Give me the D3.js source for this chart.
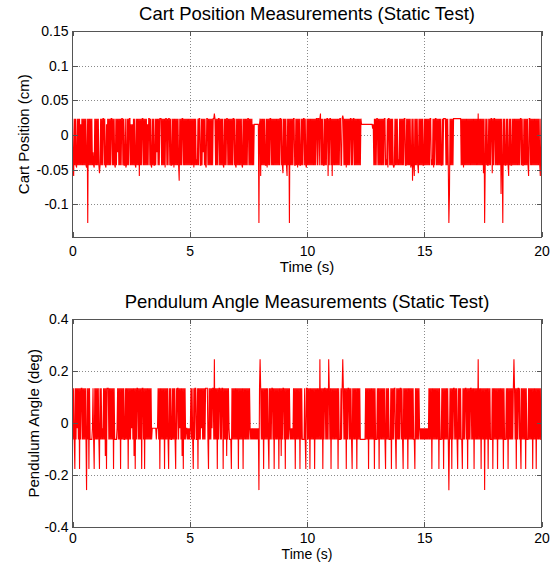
<!DOCTYPE html>
<html><head><meta charset="utf-8">
<script src="https://cdn.jsdelivr.net/npm/d3@7"></script>
<style>
body{margin:0;background:#fff}
svg text{font-family:"Liberation Sans",Arial,Helvetica,sans-serif;fill:#000}
</style>
</head><body>
<svg id="chart" width="553" height="562"></svg>
<script>
// ---------- data ----------
const timeTicks = [0, 5, 10, 15, 20];
const cartTicks = [0.15, 0.1, 0.05, 0, -0.05, -0.1];
const angleTicks = [0.4, 0.2, 0, -0.2, -0.4];

const cartLevelKeys   = ["a", "b", "c", "d", "e", "f", "g", "h", "k", "m", "q", "r", "u", "v"];
const cartLevelValues = [0.0236, 0.0154, 0.0093, -0.0435, -0.047, -0.059, -0.066, -0.127, -0.085, -0.055, -0.025, -0.035, 0.031, 0.028];
const angleLevelKeys   = ["A", "B", "C", "E", "F", "G", "H", "I", "J"];
const angleLevelValues = [0.135, 0.125, 0.051, -0.019, -0.062, -0.126, -0.176, -0.257, 0.246];

// one string of samples per second of the test (40 samples / s)
const cartSamples = [
  "adfadadead adadbdadad adadeahada dadadqdead",
  "adadadmdad adaadadebd adadadaada dadeadaqad",
  "adadaadadd aedadadaad bdbdadadea dadafadada",
  "adadadadbd aadadeadad dadaqadada aadadadaea",
  "adadaadadd adaeadadad adgadadaad adadadadad",
  "adadadaead adrdadaadd adaqadadea adadadadad",
  "aauadadada adadadadea dadaadadad adadaadade",
  "adadadadad eadadadada adadadadbd bbbbbbbbhb",
  "afadadadad daeadadaad adadadadad adadaadadm",
  "adadadfada hadadadaad dadaeadadd adadaadade",
  "adadadadad adadadaada adaudadadd adadaafada",
  "adafadadad adadadaadd avadadaead adadaadada",
  "adadadadad adabbbbbbb bbbbbbbbbb bbcbdadada",
  "adadadadad adaadrdaea adadadaded adadadrdad",
  "adadadaadd adadadaeda gadfadadad madadadadd",
  "adadadadad aadrdaeada adadadadad dadaaaadad",
  "adhkadadad aaaaaaaaaa aaadadaead adadadadad",
  "adadadadad adudadadad amahdadadd adadaamada",
  "adadadadad akadhadadd adadfadadd adadadadad",
  "adadaadadd adadadadfa adadadadad adadadadfa"
];
const cartLast = "d";

const angleSamples = [
  "AFAFHAFAEA FAHAFAAFAF AFAFIAFAHA FFFFEAFHAF",
  "AFAFAFHAFA FEFAFAGAHA AAFAFAFAFA HAFFFFEAFA",
  "FAHAFAFAFF AFAFAHAFAF AEAFAGAHAF AAFAFAFAHA",
  "AFAHAFAFAF AFAFAFEEEE EEEFEEAFAH AFAFAFAHAF",
  "AFAFHAFAFF AFAFAFHAFA AFAEAFAGAH AFAFEEFEFE",
  "FEAFAFHAFA AFFAHAFAFA EAFAFAFAAA AFHAFAFAEA",
  "AFJFAFAHAF AAFAFAAHAF AFAGAFAEFF FHAFAFAFAF",
  "AFAHAFAFAF AHAFAFAFAF AFAEFEFEFE FEFEFEFEIA",
  "JAFAFAHAFA FAFAFHAFAF AAFAHAFAFA FAHAFAGAFA",
  "AFAHAFAFAF AEFEFEFAFA HAFAFAFAHA FAFFFFAFHA",
  "AFAFAHAFAF AFAHAFAFAF AFJFAFAHAF AAFAFAFJAF",
  "AHAFAFAFAF AFAHAFFFAF AJAFAFAHAF AAFAFAFHAF",
  "AFAFAHAFAF AFFFFFFFFF AFAFAHAFAF AFAFAHAFFF",
  "AFAHAFAFAF AFAFHAFAFA FFFAHAFAFA AFHAFAFAFA",
  "AFAFHAFAFA FAHAFAFAFA FAFFHAFAFA FAEFEFEFEF",
  "EFEFEFEFAF AFAHAFAFAF AFAFAHAFFF AFAHAFAFAF",
  "AFIFAFAHAF AAFAFAFHAF AFAFFHAFAF AAFAHAFAFA",
  "AFAFAHAFAF AFJFAFAHAF AFAIAFAFAH AFAFFFAHAF",
  "AFAFAHAFAF AFAFAHAFFF AFAHAFAFAF AFAJAFAHAF",
  "AAFAFHAFAF AFAHAFFFAF AFAFAHAFAF AHAFAFAFAF"
];
const angleLast = "F";

// ---------- decode ----------
function decode(strings, keys, vals, last) {
  const map = new Map(keys.map((k, i) => [k, vals[i]]));
  const pts = [];
  strings.forEach((s, sec) => {
    const chars = s.replace(/\s+/g, "").split("");
    chars.forEach((c, j) => pts.push([sec + j / chars.length, map.get(c)]));
  });
  pts.push([strings.length, map.get(last)]);
  return pts;
}
const cartData = decode(cartSamples, cartLevelKeys, cartLevelValues, cartLast);
const angleData = decode(angleSamples, angleLevelKeys, angleLevelValues, angleLast);

// ---------- drawing ----------
const svg = d3.select("#chart");
const X0 = 72.5, X1 = 541.5;
const AX = "#555";

function panel(cfg) {
  const x = d3.scaleLinear().domain([0, 20]).range([X0, X1]);
  const y = d3.scaleLinear().domain(cfg.domain).range([cfg.bottom, cfg.top]);
  const g = svg.append("g");
  const W = X1 - X0, H = cfg.bottom - cfg.top;

  // grid
  const gx = g.append("g").attr("transform", `translate(0,${cfg.bottom})`)
    .call(d3.axisBottom(x).tickValues(timeTicks.slice(1, -1)).tickSize(-H).tickFormat(""));
  const gy = g.append("g").attr("transform", `translate(${X0},0)`)
    .call(d3.axisLeft(y).tickValues(cfg.ticks.filter(v => Math.abs(y(v) - cfg.top) > 1 && Math.abs(y(v) - cfg.bottom) > 1)).tickSize(-W).tickFormat(""));
  [gx, gy].forEach(s => {
    s.select(".domain").remove();
    s.selectAll("line").attr("stroke", "#8a8a8a").attr("stroke-dasharray", "1,2").attr("shape-rendering", "crispEdges");
  });

  // data
  g.append("path").datum(cfg.data)
    .attr("fill", "none").attr("stroke", "#ff0000").attr("stroke-width", 1.1)
    .attr("d", d3.line().x(d => x(d[0])).y(d => y(d[1])));

  // box
  g.append("rect").attr("x", X0).attr("y", cfg.top).attr("width", W).attr("height", H)
    .attr("fill", "none").attr("stroke", AX).attr("stroke-width", 1).attr("shape-rendering", "crispEdges");

  // ticks + labels
  const ab = g.append("g").attr("transform", `translate(0,${cfg.bottom})`)
    .call(d3.axisBottom(x).tickValues(timeTicks).tickSize(-5).tickSizeOuter(0).tickPadding(cfg.xtickPad).tickFormat(d => String(d)));
  const at = g.append("g").attr("transform", `translate(0,${cfg.top})`)
    .call(d3.axisTop(x).tickValues(timeTicks).tickSize(-5).tickSizeOuter(0).tickFormat(""));
  const al = g.append("g").attr("transform", `translate(${X0},0)`)
    .call(d3.axisLeft(y).tickValues(cfg.ticks).tickSize(-5).tickSizeOuter(0).tickPadding(4).tickFormat(d => String(d)));
  const ar = g.append("g").attr("transform", `translate(${X1},0)`)
    .call(d3.axisRight(y).tickValues(cfg.ticks).tickSize(-5).tickSizeOuter(0).tickFormat(""));
  [ab, at, al, ar].forEach(s => {
    s.select(".domain").remove();
    s.selectAll("line").attr("stroke", AX).attr("shape-rendering", "crispEdges");
    s.selectAll("text").attr("font-family", "Liberation Sans, Arial, sans-serif").attr("font-size", 14).attr("fill", "#000");
  });

  // titles / labels
  g.append("text").attr("x", (X0 + X1) / 2).attr("y", cfg.top - 11.5).attr("text-anchor", "middle")
    .attr("font-size", 18.5).text(cfg.title);
  g.append("text").attr("x", (X0 + X1) / 2).attr("y", cfg.bottom + cfg.xlabelDy).attr("text-anchor", "middle")
    .attr("font-size", cfg.xlabelSize).text("Time (s)");
  g.append("text").attr("transform", `translate(${cfg.ylabelX},${(cfg.top + cfg.bottom) / 2}) rotate(-90)`)
    .attr("text-anchor", "middle").attr("font-size", 15).text(cfg.ylabel);
}

panel({
  title: "Cart Position Measurements (Static Test)",
  ylabel: "Cart Position (cm)",
  domain: [-0.1475, 0.15], ticks: cartTicks,
  top: 31, bottom: 237.3, data: cartData, ylabelX: 28.5,
  xtickPad: 8.3, xlabelDy: 35, xlabelSize: 15
});
panel({
  title: "Pendulum Angle Measurements (Static Test)",
  ylabel: "Pendulum Angle (deg)",
  domain: [-0.4, 0.4], ticks: angleTicks,
  top: 319.3, bottom: 527.3, data: angleData, ylabelX: 39,
  xtickPad: 5.3, xlabelDy: 31.7, xlabelSize: 14
});
</script>
</body></html>
